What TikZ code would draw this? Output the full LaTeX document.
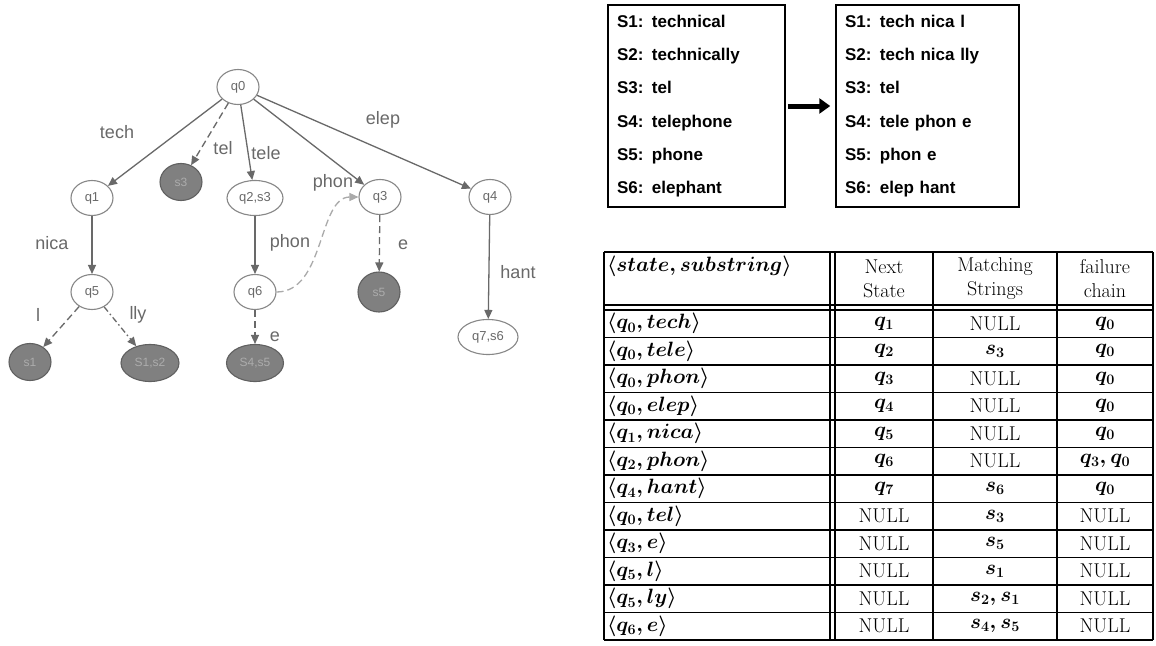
\documentclass[tikz,border=0pt]{standalone}
\usepackage{fontspec}
\setsansfont{Liberation Sans}
\usepackage{amsmath}
\usetikzlibrary{shapes.geometric, arrows.meta, positioning, calc}
\definecolor{edgegray}{RGB}{105,105,105}
\definecolor{nodegray}{RGB}{135,135,135}
\definecolor{darkfill}{RGB}{128,128,128}
\definecolor{failgray}{RGB}{170,170,170}
\tikzset{
  qnode/.style={ellipse, draw=nodegray, line width=1.1pt, fill=white, minimum width=42pt, minimum height=35pt, inner sep=1pt, text=edgegray, font=\sffamily\fontsize{13}{13}\selectfont},
  dnode/.style={ellipse, draw=darkfill!75!black, fill=darkfill, line width=1.1pt, minimum width=42pt, minimum height=37pt, inner sep=1pt, text=darkfill!65!white, font=\sffamily\fontsize{12}{12}\selectfont},
  trans/.style={draw=edgegray, line width=1.3pt, -{Triangle[length=9pt, width=8pt]}},
  brk/.style={dash pattern=on 7pt off 4pt},
  dotbrk/.style={dash pattern=on 6pt off 3pt on 1.5pt off 3pt},
  failure/.style={draw=failgray, line width=1.3pt, dash pattern=on 7pt off 4pt, -{Triangle[length=9pt, width=8pt]}},
  lbl/.style={text=edgegray, font=\sffamily\fontsize{18}{18}\selectfont},
  strbox/.style={draw, line width=1.5pt, minimum height=202pt, inner xsep=9pt, align=left, font=\sffamily\bfseries\fontsize{17}{33.3}\selectfont},
  tline/.style={line width=1.6pt},
  cell/.style={inner sep=0pt, font=\fontsize{20}{24}\selectfont\boldmath}
}

\begin{document}
\begin{tikzpicture}[x=1pt, y=-1pt]
  \fill[white] (0,0) rectangle (1156,645);
  \useasboundingbox (0,0) rectangle (1156,645);

  % automaton
  \node[qnode] (q0) at (238,87) {q0};
  \node[dnode] (s3) at (181,182) {s3};
  \node[qnode] (q1) at (92,198) {q1};
  \node[qnode, minimum width=56pt] (q2) at (255,198) {q2,s3};
  \node[qnode] (q3) at (380,197) {q3};
  \node[qnode] (q4) at (490,197) {q4};
  \node[qnode] (q5) at (92,292) {q5};
  \node[qnode] (q6) at (255,292) {q6};
  \node[dnode, minimum height=40pt] (s5) at (379,292) {s5};
  \node[qnode, minimum width=60pt] (q7) at (488,337) {q7,s6};
  \node[dnode] (s1) at (30,362) {s1};
  \node[dnode, minimum width=58pt] (s12) at (150,363) {S1,s2};
  \node[dnode, minimum width=57pt] (s45) at (255,363) {S4,s5};

  \draw[trans] (q0) -- (q1);
  \draw[trans, brk] (q0) -- (s3);
  \draw[trans] (q0) -- (q2);
  \draw[trans] (q0) -- (q3);
  \draw[trans] (q0) -- (q4);
  \draw[trans] (q1) -- (q5);
  \draw[trans] (q2) -- (q6);
  \draw[trans] (q4) -- (q7);
  \draw[trans, brk] (q3) -- (s5);
  \draw[trans, brk] (q5) -- (s1);
  \draw[trans, dotbrk] (q5) -- (s12);
  \draw[trans, brk] (q6) -- (s45);
  \draw[failure] (q6.east) .. controls (325,292) and (318,197) .. (q3.west);

  \node[lbl] (ltech) at (117,132) {tech};
  \node[lbl] (ltel) at (223,148) {tel};
  \node[lbl] (ltele) at (266,153) {tele};
  \node[lbl] (lelep) at (383,120) {elep};
  \node[lbl] (lphonA) at (333,183) {phon};
  \node[lbl] (lnica) at (52,243) {nica};
  \node[lbl] (lphonB) at (290,243) {phon};
  \node[lbl] (leA) at (403,245) {e};
  \node[lbl] (lhant) at (518,272) {hant};
  \node[lbl] (ll) at (38,315) {l};
  \node[lbl] (llly) at (138,315) {lly};
  \node[lbl] (leB) at (275,337) {e};

  % string boxes
  \node[strbox, minimum width=177pt, text width=159pt] (strA) at (696.5,106) {S1: technical\\S2: technically\\S3: tel\\S4: telephone\\S5: phone\\S6: elephant};
  \node[strbox, minimum width=183pt, text width=165pt] (strB) at (927.5,106) {S1: tech nica l\\S2: tech nica lly\\S3: tel\\S4: tele phon e\\S5: phon e\\S6: elep hant};
  \draw[line width=5pt, -{Triangle[length=11pt, width=15pt]}, shorten <=2pt, shorten >=5pt] (strA) -- (strB);

  % table
  \draw[tline] (604,252) -- (1153,252);
  \draw[tline] (604,305) -- (1153,305);
  \draw[tline] (604,310) -- (1153,310);
  \foreach \x in {604,830,835,933,1057,1153}
    \draw[tline] (\x,252) -- (\x,640);
  \node[cell, anchor=west] (hsa) at (607,266) {$\langle state, substring\rangle$};
  \node[cell, align=center] (hnx) at (884,278.5) {Next\\State};
  \node[cell, align=center] (hms) at (995,278.5) {Matching\\Strings};
  \node[cell, align=center] (hfc) at (1105,278.5) {failure\\chain};
  \foreach \sa/\nx/\ms/\fc [count=\i] in {
    {$\langle q_0, tech\rangle$}/{$q_1$}/{NULL}/{$q_0$},
    {$\langle q_0, tele\rangle$}/{$q_2$}/{$s_3$}/{$q_0$},
    {$\langle q_0, phon\rangle$}/{$q_3$}/{NULL}/{$q_0$},
    {$\langle q_0, elep\rangle$}/{$q_4$}/{NULL}/{$q_0$},
    {$\langle q_1, nica\rangle$}/{$q_5$}/{NULL}/{$q_0$},
    {$\langle q_2, phon\rangle$}/{$q_6$}/{NULL}/{$q_3, q_0$},
    {$\langle q_4, hant\rangle$}/{$q_7$}/{$s_6$}/{$q_0$},
    {$\langle q_0, tel\rangle$}/{NULL}/{$s_3$}/{NULL},
    {$\langle q_3, e\rangle$}/{NULL}/{$s_5$}/{NULL},
    {$\langle q_5, l\rangle$}/{NULL}/{$s_1$}/{NULL},
    {$\langle q_5, ly\rangle$}/{NULL}/{$s_2, s_1$}/{NULL},
    {$\langle q_6, e\rangle$}/{NULL}/{$s_4, s_5$}/{NULL}} {
    \pgfmathsetmacro\yy{296.25+27.5*\i}
    \pgfmathsetmacro\yb{310+27.5*\i}
    \node[cell, anchor=west] (sa\i) at (607,\yy) {\sa};
    \node[cell] (nx\i) at (884,\yy) {\nx};
    \node[cell] (ms\i) at (995,\yy) {\ms};
    \node[cell] (fc\i) at (1105,\yy) {\fc};
    \draw[tline] (604,\yb) -- (1153,\yb);
  }
\end{tikzpicture}
\end{document}
